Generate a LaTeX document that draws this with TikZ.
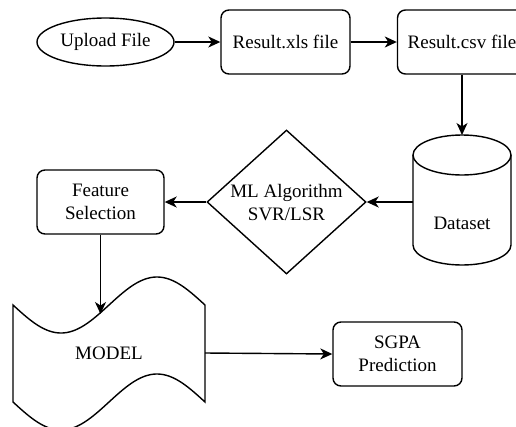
\documentclass[tikz,border=0pt]{standalone}
\usepackage{fontspec}
\setmainfont{Liberation Serif}
\usetikzlibrary{shapes.geometric,arrows.meta}
\begin{document}
\begin{tikzpicture}[x=1pt,y=-1pt,line width=1.4pt,
  font=\fontsize{19}{23}\selectfont,
  >={Stealth[length=12pt,width=11pt,inset=3.5pt]},
  box/.style={draw,rounded corners=8pt,minimum width=129pt,minimum height=64pt,align=center,inner sep=0pt},
  oval/.style={draw,ellipse,minimum width=137pt,minimum height=48pt,inner sep=0pt},
  dia/.style={draw,diamond,minimum width=159pt,minimum height=144pt,inner sep=0pt},
  anchorbox/.style={rectangle,inner sep=0pt,outer sep=0pt,align=center}]
\useasboundingbox (0,0) rectangle (516,426);
\clip (0,0) rectangle (516,426);
% top row
\node[oval] (up) at (105.5,42) {Upload File};
\node[box] (xls) at (285.5,42) {Result.xls file};
\node[box] (csv) at (462,42) {Result.csv file};
% dataset cylinder
\node[anchorbox,minimum width=98pt,minimum height=134pt] (db) at (462,202) {};
\draw (413,155) -- (413,245) arc[start angle=180,end angle=0,x radius=49,y radius=20] -- (511,155);
\draw (462,155) ellipse[x radius=49,y radius=20];
\node (dstext) at (462,223) {Dataset};
% ML diamond
\node[dia] (ml) at (286.5,202) {};
\node[align=center] (mltext) at (286.5,203) {ML Algorithm\\SVR/LSR};
% feature selection
\node[box,minimum width=127pt] (fs) at (100.5,202) {Feature\\Selection};
% model tape
\draw plot[domain=13:205,samples=90] (\x,{305+28*sin(1.875*(\x-13))})
  -- (205,402)
  -- plot[domain=205:13,samples=90] (\x,{402+28*sin(1.875*(\x-13))})
  -- cycle;
\node[anchorbox,minimum width=192pt,minimum height=40pt] (model) at (109,353) {MODEL};
\coordinate (mtop) at (100.5,314);
% SGPA
\node[box] (sgpa) at (397.5,354) {SGPA\\Prediction};
% connectors
\draw[->] (up) -- (xls);
\draw[->] (xls) -- (csv);
\draw[->] (csv) -- (db.north);
\draw[->] (db.west) -- (ml.east);
\draw[->] (ml.west) -- (fs.east);
\draw[->] (fs.south) -- (mtop);
\draw[->] (model.east) -- (sgpa.west);
\end{tikzpicture}
\end{document}
